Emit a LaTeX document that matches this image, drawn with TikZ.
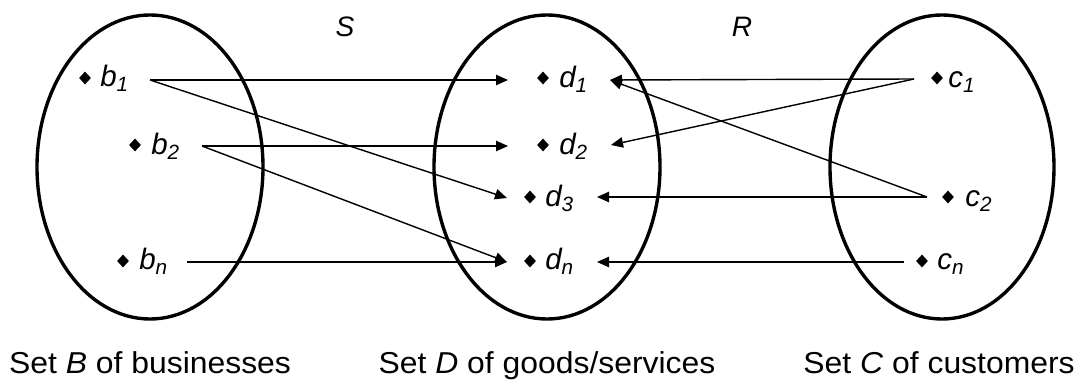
\documentclass[tikz,border=0pt]{standalone}
\usepackage{fontspec}
\setmainfont{Liberation Sans}
\newfontfamily\capfont[FakeStretch=1.055]{Liberation Sans}
\usetikzlibrary{shapes.geometric,arrows.meta,calc}
\begin{document}
\begin{tikzpicture}[x=0.025cm,y=-0.025cm,
  setell/.style={draw=black,line width=2.4pt},
  pt/.style={shape=diamond,fill=black,inner sep=0pt,minimum width=12*0.025cm,minimum height=13*0.025cm},
  lab/.style={anchor=base west,inner sep=0pt,font=\fontsize{21}{25}\selectfont\itshape},
  rel/.style={anchor=base,inner sep=0pt,font=\fontsize{20}{24}\selectfont\itshape},
  captxt/.style={anchor=base,inner sep=0pt,font=\fontsize{21.5}{26}\selectfont\capfont},
  conn/.style={line width=1pt,-{Triangle[length=0.3cm,width=0.26cm]}}
]
\useasboundingbox (0,0) rectangle (1080,380);
% sets
\draw[setell] (150,167) ellipse [x radius=113, y radius=152];
\draw[setell] (547,167) ellipse [x radius=113, y radius=152];
\draw[setell] (942,167) ellipse [x radius=112, y radius=152];
% points B
\node[pt] (b1) at (85,78) {};
\node[pt] (b2) at (135,145) {};
\node[pt] (bn) at (123,261) {};
\node[lab] (b1l) at (100,87) {b\textsubscript{1}};
\node[lab] (b2l) at (151,155) {b\textsubscript{2}};
\node[lab] (bnl) at (139,270) {b\textsubscript{n}};
% points D
\node[pt] (d1) at (543,78) {};
\node[pt] (d2) at (543,145) {};
\node[pt] (d3) at (530,197) {};
\node[pt] (dn) at (530,261) {};
\node[lab] (d1l) at (559,88) {d\textsubscript{1}};
\node[lab] (d2l) at (559,155) {d\textsubscript{2}};
\node[lab] (d3l) at (545,207) {d\textsubscript{3}};
\node[lab] (dnl) at (545,270) {d\textsubscript{n}};
% points C
\node[pt] (c1) at (937,78) {};
\node[pt] (c2) at (948,197) {};
\node[pt] (cn) at (922,261) {};
\node[lab] (c1l) at (948,88) {c\textsubscript{1}};
\node[lab] (c2l) at (965,207) {c\textsubscript{2}};
\node[lab] (cnl) at (937,270) {c\textsubscript{n}};
% relation names
\node[rel] (S) at (345,37) {S};
\node[rel] (R) at (742,37) {R};
% captions
\node[captxt] (capB) at (150,373) {Set \textit{B} of businesses};
\node[captxt] (capD) at (547,373) {Set \textit{D} of goods/services};
\node[captxt] (capC) at (939,373) {Set \textit{C} of customers};
% relation S
\draw[conn] ($(b1)+(65,2)$) -- ($(d1)+(-35,2)$);
\draw[conn] ($(b1)+(65,2)$) -- ($(d3)+(-23,1)$);
\draw[conn] ($(b2)+(67,1)$) -- ($(d2)+(-35,1)$);
\draw[conn] ($(b2)+(67,1)$) -- ($(dn)+(-23,1)$);
\draw[conn] ($(bn)+(64,1)$) -- ($(dn)+(-23,1)$);
% relation R
\draw[conn] ($(c1)+(-23,1)$) -- ($(d1)+(67,2)$);
\draw[conn] ($(c1)+(-23,1)$) -- ($(d2)+(68,0)$);
\draw[conn] ($(c2)+(-21,0)$) -- ($(d1)+(67,2)$);
\draw[conn] ($(c2)+(-21,0)$) -- ($(d3)+(67,0)$);
\draw[conn] ($(cn)+(-18,1)$) -- ($(dn)+(67,1)$);
\end{tikzpicture}
\end{document}
